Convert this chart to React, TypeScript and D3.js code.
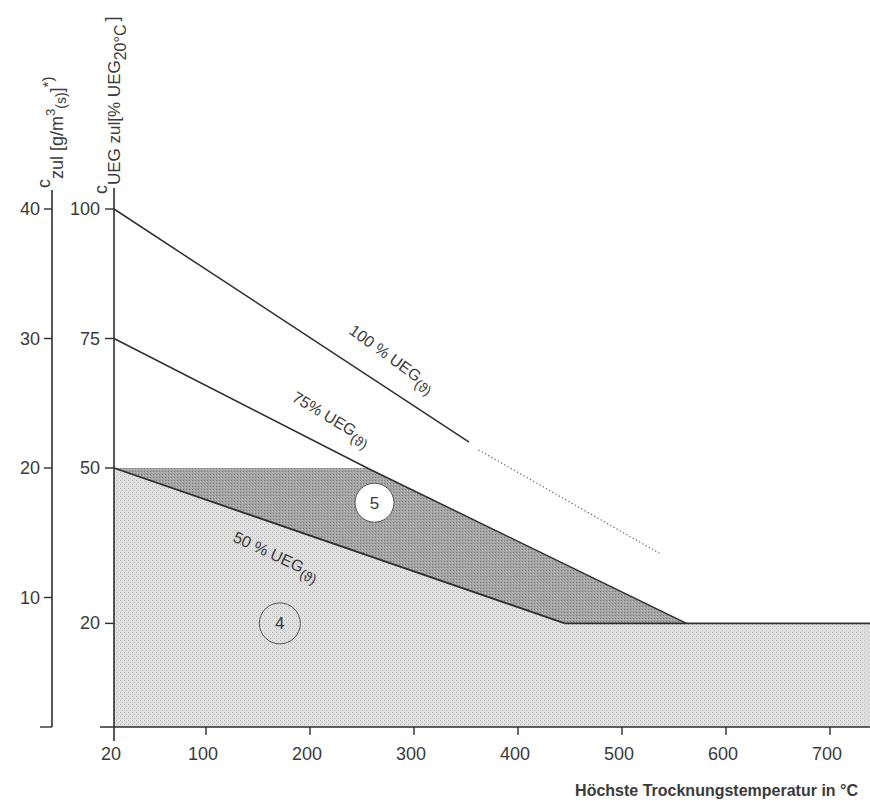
import React from "react";
import * as d3 from "d3";

// ---- data ----
const xTicks = [20, 100, 200, 300, 400, 500, 600, 700];
const innerTicks = [20, 50, 75, 100]; // % UEG 20°C
const outerTicks = [0, 10, 20, 30, 40]; // g/m³
const outerTickLabels = ["", "10", "20", "30", "40"];

const line100Temp = [20, 353];
const line100Val = [100, 55];
const line100DotTemp = [362, 538];
const line100DotVal = [53.5, 33.3];
const line75Temp = [20, 255, 562];
const line75Val = [75, 50, 20];
const line50Temp = [20, 445];
const line50Val = [50, 20];
const floorTemp = [445, 745];
const floorVal = [20, 20];
const zone5Temp = [20, 255, 562, 445];
const zone5Val = [50, 50, 20, 20];
const zone4Temp = [20, 445, 745, 745, 20];
const zone4Val = [50, 20, 20, 0, 0];
const zoneLabels = ["4", "5"];
const zoneLabelTemp = [171, 262];
const zoneLabelVal = [20, 43.3];

const lineLabels = ["100 % UEG", "75% UEG", "50 % UEG"];
const lineLabelTemp = [236.5, 181.7, 125];
const lineLabelVal = [76.1, 63.1, 35.9];
const lineLabelAngle = [36, 31, 25];

const FONT = "'Liberation Sans', Arial, Helvetica, sans-serif";
const INK = "#3a3a3a";

export default function App() {
  const W = 870;
  const H = 806;
  const x = d3.scaleLinear().domain([20, 100, 700]).range([114, 206, 830]);
  const y = d3.scaleLinear().domain([0, 100]).range([727, 209]);
  const y2 = d3.scaleLinear().domain([0, 40]).range([727, 209]);

  const pts = (t: number[], v: number[]) => t.map((d, i) => [x(d), y(v[i])] as [number, number]);
  const line = d3.line();
  const x0 = x(20);
  const outerX = 52;

  return (
    <>
      <style>{`html,body{margin:0;padding:0;overflow:hidden;}`}</style>
      <svg width={W} height={H} style={{ display: "block", background: "#fff" }} fontFamily={FONT}>
        <defs>
          <pattern id="light" width="4" height="4" patternUnits="userSpaceOnUse">
            <rect width="4" height="4" fill="#dedede" />
            <rect x="0" y="0" width="1" height="1" fill="#b8b8b8" />
            <rect x="2" y="2" width="1" height="1" fill="#c6c6c6" />
            <rect x="3" y="0" width="1" height="1" fill="#ececec" />
          </pattern>
          <pattern id="dark" width="3" height="3" patternUnits="userSpaceOnUse">
            <rect width="3" height="3" fill="#a4a4a4" />
            <rect x="0" y="0" width="1" height="1" fill="#7a7a7a" />
            <rect x="2" y="1" width="1" height="1" fill="#c0c0c0" />
          </pattern>
        </defs>
        <rect width={W} height={H} fill="#fff" />

        {/* zones */}
        <path d={line(pts(zone4Temp, zone4Val))! + "Z"} fill="url(#light)" />
        <path d={line(pts(zone5Temp, zone5Val))! + "Z"} fill="url(#dark)" />

        {/* lines */}
        <g fill="none" stroke="#2e2e2e" strokeWidth={1.5}>
          <path d={line(pts(line100Temp, line100Val))!} />
          <path d={line(pts(line100DotTemp, line100DotVal))!} strokeWidth={1.2} strokeDasharray="1.3 2.4" stroke="#666" />
          <path d={line(pts(line75Temp, line75Val))!} />
          <path d={line(pts(line50Temp, line50Val))!} strokeWidth={1.8} />
          <path d={line(pts(floorTemp, floorVal))!} strokeWidth={1.8} />
        </g>

        {/* zone circles */}
        {zoneLabels.map((s, i) => (
          <g key={s} transform={`translate(${x(zoneLabelTemp[i])},${y(zoneLabelVal[i])})`}>
            <circle r={i === 0 ? 20.5 : 19.5} fill={i === 0 ? "none" : "#fff"} stroke="#555" strokeWidth={1} />
            <text textAnchor="middle" dy="6" fontSize={17} fill={INK}>{s}</text>
          </g>
        ))}

        {/* line labels */}
        {lineLabels.map((s, i) => (
          <text key={s} transform={`translate(${x(lineLabelTemp[i])},${y(lineLabelVal[i])}) rotate(${lineLabelAngle[i]})`}
            fontSize={16} fill={INK}>
            {s}
            <tspan fontSize={14} dy={5}>(ϑ)</tspan>
          </text>
        ))}

        {/* x axis */}
        <line x1={100} x2={W} y1={y(0)} y2={y(0)} stroke="#2e2e2e" strokeWidth={1.6} />
        {xTicks.map((t) => (
          <g key={t} transform={`translate(${x(t)},${y(0)})`}>
            {t !== 20 && <line y1={0} y2={8} stroke="#2e2e2e" strokeWidth={1.4} />}
            <text textAnchor="middle" x={-3} y={33} fontSize={18} fill={INK}>{t}</text>
          </g>
        ))}
        <text x={858} y={796} textAnchor="end" fontSize={16} fontWeight="bold" fill={INK}>
          Höchste Trocknungstemperatur in °C
        </text>

        {/* inner y axis (% UEG) */}
        <line x1={x0} x2={x0} y1={188} y2={741} stroke="#2e2e2e" strokeWidth={1.6} />
        {innerTicks.map((t) => (
          <g key={t} transform={`translate(${x0},${y(t)})`}>
            <line x1={-9} x2={0} stroke="#2e2e2e" strokeWidth={1.4} />
            <text x={-14} dy={6} textAnchor="end" fontSize={18} fill={INK}>{t}</text>
          </g>
        ))}

        {/* outer y axis (g/m³) */}
        <line x1={outerX} x2={outerX} y1={190} y2={y2(0)} stroke="#2e2e2e" strokeWidth={1.6} />
        {outerTicks.map((t, i) => (
          <g key={t} transform={`translate(${outerX},${y2(t)})`}>
            <line x1={t === 0 ? -12 : -8} x2={0} stroke="#2e2e2e" strokeWidth={1.4} />
            <text x={-12} dy={6} textAnchor="end" fontSize={18} fill={INK}>{outerTickLabels[i]}</text>
          </g>
        ))}

        {/* axis titles */}
        <text transform={`translate(50,188) rotate(-90)`} fontSize={18} fill={INK}>
          c
          <tspan dy={13} fontSize={18}>zul [g/m</tspan>
          <tspan dy={-8} fontSize={13}>3</tspan>
          <tspan dy={11} fontSize={14}>(s)</tspan>
          <tspan dy={-3} fontSize={18}>]</tspan>
          <tspan dy={-10} fontSize={15}>*)</tspan>
        </text>
        <text transform={`translate(107,194) rotate(-90)`} fontSize={18} fill={INK}>
          c
          <tspan dy={13} fontSize={17}>UEG zul[% UEG</tspan>
          <tspan dy={6} fontSize={16}>20°C</tspan>
          <tspan dy={-8} dx={3} fontSize={18}>]</tspan>
        </text>
      </svg>
    </>
  );
}
